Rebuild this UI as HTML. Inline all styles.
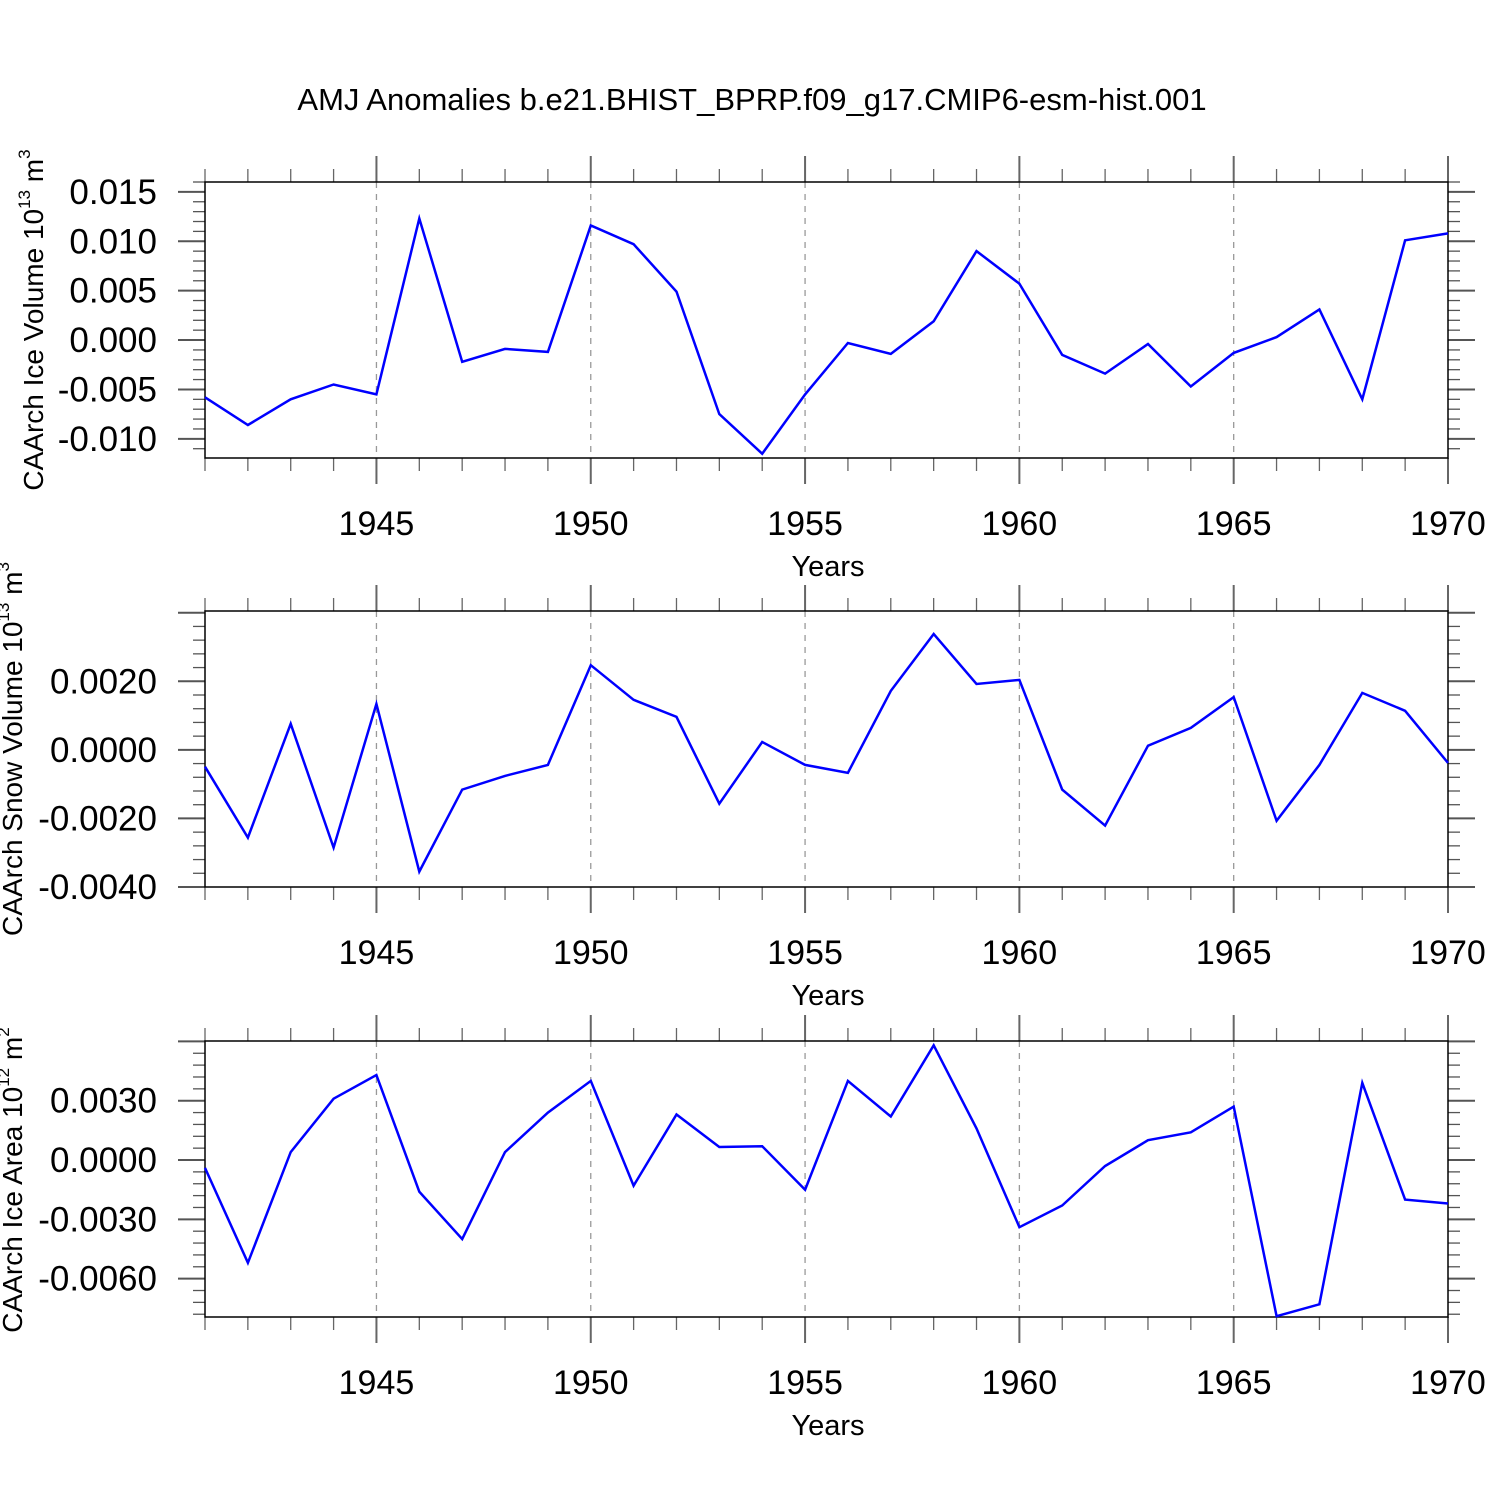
<!DOCTYPE html>
<html><head><meta charset="utf-8"><style>
html,body{margin:0;padding:0;background:#fff}
svg{display:block;font-family:"Liberation Sans",Arial,sans-serif}
</style></head><body>
<svg id="chart" width="1500" height="1500" viewBox="0 0 1500 1500" xmlns="http://www.w3.org/2000/svg">
<rect width="1500" height="1500" fill="#fff"/>
<text x="752" y="110" font-size="31" text-anchor="middle">AMJ Anomalies b.e21.BHIST_BPRP.f09_g17.CMIP6-esm-hist.001</text>
</svg>
<script>
const years = [1941,1942,1943,1944,1945,1946,1947,1948,1949,1950,1951,1952,1953,1954,1955,1956,1957,1958,1959,1960,1961,1962,1963,1964,1965,1966,1967,1968,1969,1970];
const iceVolume = [-0.0058,-0.0086,-0.0060,-0.0045,-0.0055,0.0123,-0.0022,-0.0009,-0.0012,0.0116,0.0097,0.0049,-0.0075,-0.0115,-0.0055,-0.0003,-0.0014,0.0019,0.0090,0.0057,-0.0015,-0.0034,-0.0004,-0.0047,-0.0013,0.0003,0.0031,-0.0060,0.0101,0.0108];
const snowVolume = [-0.00049,-0.00256,0.00076,-0.00285,0.00134,-0.00355,-0.00116,-0.00076,-0.00044,0.00247,0.00146,0.00096,-0.00157,0.00023,-0.00044,-0.00067,0.00172,0.00338,0.00192,0.00204,-0.00116,-0.00221,0.00012,0.00064,0.00154,-0.00207,-0.00044,0.00166,0.00114,-0.00038];
const iceArea = [-0.0004,-0.0052,0.0004,0.0031,0.0043,-0.0016,-0.0040,0.0004,0.0024,0.0040,-0.0013,0.0023,0.00066,0.0007,-0.0015,0.0040,0.0022,0.0058,0.0016,-0.0034,-0.0023,-0.0003,0.0010,0.0014,0.0027,-0.0079,-0.0073,0.0039,-0.0020,-0.0022];
const xTickLabels = ["1945","1950","1955","1960","1965","1970"];
const iceVolTicks = ["0.015","0.010","0.005","0.000","-0.005","-0.010"];
const snowTicks = ["0.0020","0.0000","-0.0020","-0.0040"];
const areaTicks = ["0.0030","0.0000","-0.0030","-0.0060"];

const NS="http://www.w3.org/2000/svg";
const svg=document.getElementById('chart');
function mk(tag,attrs,parent){const e=document.createElementNS(NS,tag);for(const k in attrs)e.setAttribute(k,attrs[k]);(parent||svg).appendChild(e);return e;}
const X0=205,X1=1448,xMin=1941,xMax=1970;
function xs(v){return X0+(v-xMin)/(xMax-xMin)*(X1-X0);}

const panels=[
 {name:'ice-volume',top:182,bot:458,vmin:-0.01194,vmax:0.016,data:iceVolume,ticks:iceVolTicks,minor:0.001,title:'CAArch Ice Volume 10',sup:'13',unit:' m',usup:'3',tcy:320,tcx:43},
 {name:'snow-volume',top:611,bot:887,vmin:-0.0040,vmax:0.00405,data:snowVolume,ticks:snowTicks,minor:0.0004,title:'CAArch Snow Volume 10',sup:'13',unit:' m',usup:'3',tcy:749,tcx:22},
 {name:'ice-area',top:1041,bot:1317,vmin:-0.00794,vmax:0.00602,data:iceArea,ticks:areaTicks,minor:0.0006,title:'CAArch Ice Area 10',sup:'12',unit:' m',usup:'2',tcy:1180,tcx:22}
];
panels.forEach(p=>{
 const ys=v=>p.bot-(v-p.vmin)/(p.vmax-p.vmin)*(p.bot-p.top);
 const g=mk('g',{});
 
 
 xTickLabels.forEach(t=>{const x=xs(+t);if(x<X1-1){const l=mk('line',{x1:x,x2:x,y1:p.top,y2:p.bot,stroke:'#999','stroke-width':1.3,'stroke-dasharray':'6,6'},g);
 
 }});
 years.forEach(y=>{const x=xs(y);const maj=y%5===0;const L=maj?26:13;
  mk('line',{x1:x,x2:x,y1:p.top,y2:p.top-L,stroke:'#666','stroke-width':maj?2:1.3},g);
  mk('line',{x1:x,x2:x,y1:p.bot,y2:p.bot+L,stroke:'#666','stroke-width':maj?2:1.3},g);});
 for(let v=Math.ceil(p.vmin/p.minor)*p.minor;v<=p.vmax+1e-12;v+=p.minor){const y=ys(v);
  const q=Math.round(v/p.minor);const maj=q%5===0;const L=maj?27:12;
  mk('line',{x1:X0,x2:X0-L,y1:y,y2:y,stroke:'#555','stroke-width':maj?2:1.3},g);
  mk('line',{x1:X1,x2:X1+L,y1:y,y2:y,stroke:'#555','stroke-width':maj?2:1.3},g);}
 const fr=mk('rect',{x:X0,y:p.top,width:X1-X0,height:p.bot-p.top,fill:'none',stroke:'#000','stroke-width':1.5},g);
 
 
 p.ticks.forEach(t=>{const tx=mk('text',{x:157,y:ys(+t)+12,'font-size':35,'text-anchor':'end'},g);tx.textContent=t;
  
  });
 xTickLabels.forEach(t=>{const tx=mk('text',{x:xs(+t),y:p.bot+77,'font-size':34,'text-anchor':'middle'},g);tx.textContent=t;
  
  });
 const xt=mk('text',{x:828,y:p.bot+118,'font-size':29,'text-anchor':'middle'},g);xt.textContent='Years';
 
 
 const yt=mk('text',{x:0,y:0,'font-size':28,'text-anchor':'middle',transform:`translate(${p.tcx},${p.tcy}) rotate(-90)`},g);
 
 
 const a=mk('tspan',{},yt);a.textContent=p.title;
 const b=mk('tspan',{'font-size':17,dy:-13},yt);b.textContent=p.sup;
 const c=mk('tspan',{dy:13},yt);c.textContent=p.unit;
 const d=mk('tspan',{'font-size':17,dy:-13},yt);d.textContent=p.usup;
 const pts=p.data.map((v,i)=>xs(years[i]).toFixed(1)+','+ys(v).toFixed(1)).join(' ');
 const pl=mk('polyline',{points:pts,fill:'none',stroke:'#0000ff','stroke-width':2.5,'stroke-linejoin':'miter'},g);
 
 
});
</script>
</body></html>
